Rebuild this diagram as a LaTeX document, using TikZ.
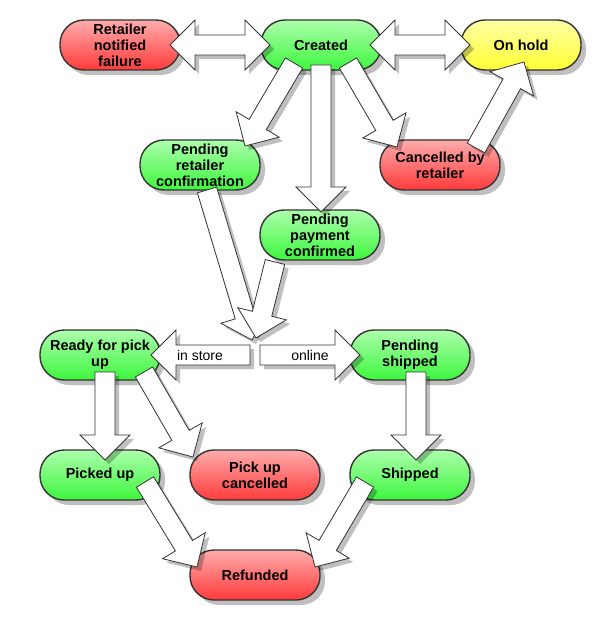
\documentclass[tikz,border=0pt]{standalone}
\usepackage{fontspec}
\setmainfont{Liberation Sans}
\usetikzlibrary{calc,shadows}
\definecolor{redtop}{RGB}{255,172,172}
\definecolor{redbot}{RGB}{255,58,58}
\definecolor{greentop}{RGB}{172,255,172}
\definecolor{greenbot}{RGB}{62,246,62}
\definecolor{yellowtop}{RGB}{255,255,165}
\definecolor{yellowbot}{RGB}{255,255,52}
\definecolor{edge}{RGB}{51,51,51}
\tikzset{
  state/.style={rectangle, rounded corners=24pt, minimum width=120pt, minimum height=50pt,
    draw=edge, line width=1.4pt, align=center, inner sep=0pt,
    font=\fontsize{14.5}{16}\selectfont\bfseries,
    drop shadow={shadow xshift=5pt, shadow yshift=-5pt, fill=black, opacity=0.25}},
  redstate/.style={state, top color=redtop, bottom color=redbot},
  greenstate/.style={state, top color=greentop, bottom color=greenbot},
  yellowstate/.style={state, top color=yellowtop, bottom color=yellowbot},
  fat/.style={draw=edge, line width=0.8pt, fill=white, line join=miter,
    drop shadow={shadow xshift=4pt, shadow yshift=-4pt, fill=black, opacity=0.25}},
  lbl/.style={inner sep=0pt, font=\fontsize{14}{16}\selectfont},
}
\newcommand\onearrow[2]{%
  \coordinate (hb) at ($(#2)!25pt!(#1)$);
  \draw[fat] ($(#1)!10pt!90:(#2)$) -- ($(hb)!10pt!-90:(#1)$) -- ($(hb)!25pt!-90:(#1)$)
    -- (#2) -- ($(hb)!25pt!90:(#1)$) -- ($(hb)!10pt!90:(#1)$) -- ($(#1)!10pt!-90:(#2)$) -- cycle;
}
\newcommand\twoarrow[2]{%
  \coordinate (ha) at ($(#1)!25pt!(#2)$);
  \coordinate (hb) at ($(#2)!25pt!(#1)$);
  \draw[fat] (#1) -- ($(ha)!25pt!90:(#2)$) -- ($(ha)!10pt!90:(#2)$) -- ($(hb)!10pt!-90:(#1)$)
    -- ($(hb)!25pt!-90:(#1)$) -- (#2) -- ($(hb)!25pt!90:(#1)$) -- ($(hb)!10pt!90:(#1)$)
    -- ($(ha)!10pt!-90:(#2)$) -- ($(ha)!25pt!-90:(#2)$) -- cycle;
}
\begin{document}
\begin{tikzpicture}[x=1pt,y=-1pt]
\useasboundingbox (0,0) rectangle (600,620);
% states
\node[redstate] (rnf) at (120,45) {Retailer\\notified\\failure};
\node[greenstate] (cr) at (321,45) {Created};
\node[yellowstate] (oh) at (521,45) {On hold};
\node[greenstate] (prc) at (200,165) {Pending\\retailer\\confirmation};
\node[redstate] (cbr) at (440,165) {Cancelled by\\retailer};
\node[greenstate] (ppc) at (320,235) {Pending\\payment\\confirmed};
\node[greenstate] (rpu) at (100,355) {Ready for pick\\up};
\node[greenstate] (ps) at (410,355) {Pending\\shipped};
\node[greenstate] (pu) at (100,475) {Picked up};
\node[redstate, minimum width=130pt] (puc) at (255,475) {Pick up\\cancelled};
\node[greenstate] (sh) at (410,475) {Shipped};
\node[redstate, minimum width=130pt] (rf) at (255,575) {Refunded};
% connector ends
\coordinate (rnfR) at ($(rnf.center)+(50,0)$);
\coordinate (crL) at ($(cr.center)+(-51,0)$);
\coordinate (crR) at ($(cr.center)+(49,0)$);
\coordinate (ohL) at ($(oh.center)+(-51,0)$);
\coordinate (crSW) at ($(cr.center)+(-27,18)$);
\coordinate (prcT) at ($(prc.center)+(45,-19)$);
\coordinate (crS) at ($(cr.center)+(0,20)$);
\coordinate (ppcT) at ($(ppc.center)+(1,-23)$);
\coordinate (crSE) at ($(cr.center)+(27,18)$);
\coordinate (cbrT) at ($(cbr.center)+(-43,-18)$);
\coordinate (cbrNE) at ($(cbr.center)+(36,-17)$);
\coordinate (ohB) at ($(oh.center)+(3,17)$);
\coordinate (prcB) at ($(prc.center)+(7,25)$);
\coordinate (jA) at (252,340);
\coordinate (ppcB) at ($(ppc.center)+(-45,27)$);
\coordinate (jB) at (256,338);
\coordinate (jL) at (250,355);
\coordinate (rpuR) at ($(rpu.center)+(51,0)$);
\coordinate (jR) at (260,355);
\coordinate (psL) at ($(ps.center)+(-50,0)$);
\coordinate (rpuB) at ($(rpu.center)+(5,17)$);
\coordinate (puT) at ($(pu.center)+(5,-15)$);
\coordinate (rpuSE) at ($(rpu.center)+(44,17)$);
\coordinate (pucT) at ($(puc.center)+(-62,-18)$);
\coordinate (psB) at ($(ps.center)+(6,17)$);
\coordinate (shT) at ($(sh.center)+(6,-15)$);
\coordinate (puSE) at ($(pu.center)+(45,7)$);
\coordinate (rfNW) at ($(rf.center)+(-58,-8)$);
\coordinate (shSW) at ($(sh.center)+(-45,7)$);
\coordinate (rfNE) at ($(rf.center)+(60,-8)$);
% connectors
\twoarrow{rnfR}{crL}
\twoarrow{crR}{ohL}
\onearrow{crSW}{prcT}
\onearrow{crS}{ppcT}
\onearrow{crSE}{cbrT}
\onearrow{cbrNE}{ohB}
\onearrow{prcB}{jA}
\onearrow{ppcB}{jB}
\onearrow{jL}{rpuR}
\onearrow{jR}{psL}
\onearrow{rpuB}{puT}
\onearrow{rpuSE}{pucT}
\onearrow{psB}{shT}
\onearrow{puSE}{rfNW}
\onearrow{shSW}{rfNE}
% labels
\node[lbl] (instore) at (200,355) {in store};
\node[lbl] (online) at (310,355) {online};
\end{tikzpicture}
\end{document}
